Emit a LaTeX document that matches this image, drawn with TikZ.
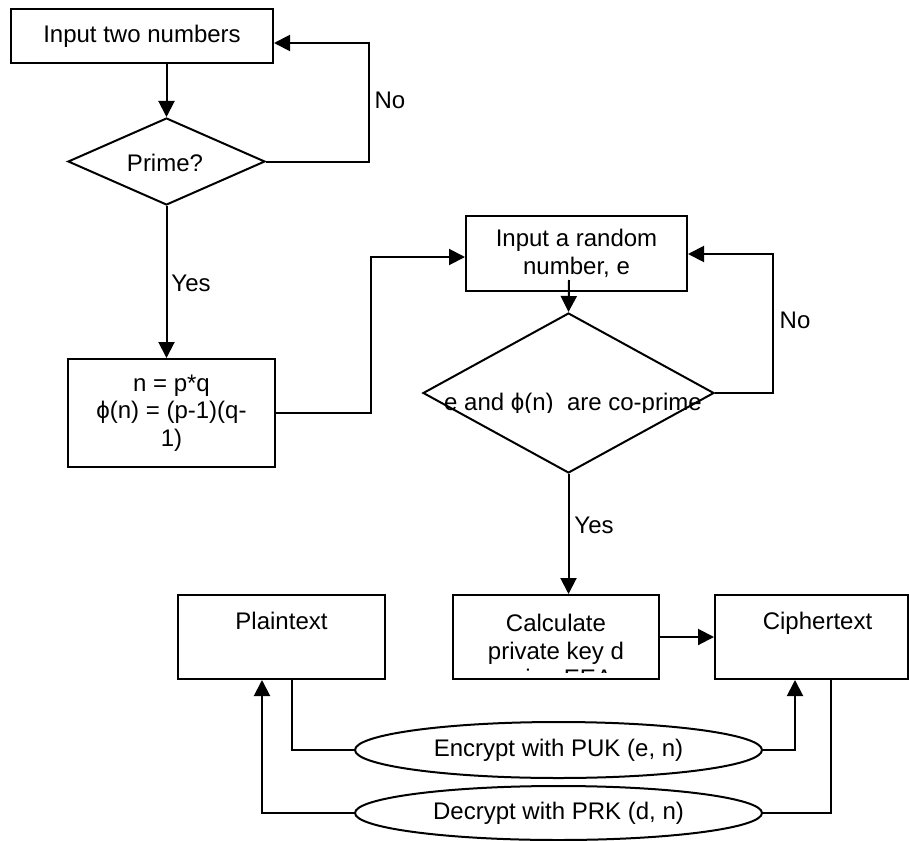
\documentclass[tikz,border=0pt]{standalone}
\usepackage{fontspec}
\setmainfont{Liberation Sans}
\usetikzlibrary{arrows.meta,shapes.geometric}
\tikzset{
  box/.style={draw, line width=1pt, rectangle, inner sep=0pt},
  diam/.style={draw, line width=1pt, diamond, inner sep=0pt},
  oval/.style={draw, line width=1pt, ellipse, inner sep=0pt},
  con/.style={line width=1pt},
  arr/.style={line width=1pt, -{Triangle[length=8pt,width=8pt]}},
  lbl/.style={inner sep=0pt},
}
\begin{document}
\begin{tikzpicture}[x=0.5pt, y=-0.5pt, font=\fontsize{12}{13.8}\selectfont]
\useasboundingbox (0,0) rectangle (909,840);

% top-left flow
\node[box, minimum width=131pt, minimum height=27pt] (b1) at (142,36) {Input two numbers};
\node[diam, minimum width=98.5pt, minimum height=43.5pt] (d1) at (166.5,161.5) {};
\node[lbl] (t1) at (165,163) {Prime?};
\node[box, minimum width=103.5pt, minimum height=54pt, align=center] (b2) at (171.5,413) {n = p*q\\ϕ(n) = (p-1)(q-\\1)};

% middle flow
\node[box, minimum width=110.5pt, minimum height=37.5pt, align=center] (b3) at (576.5,253.5) {Input a random\\number, e};
\node[diam, minimum width=145.5pt, minimum height=80pt] (d2) at (568.5,393) {};
\begin{scope}
  \clip (415,370) rectangle (725,412);
  \node[lbl, anchor=base] (t2) at (573,410) {e and ϕ(n)\ \ are co-prime};
\end{scope}

% bottom row
\node[box, minimum width=103.5pt, minimum height=42pt] (p) at (281.5,637) {};
\node[lbl, anchor=base] (tp) at (281.5,629) {Plaintext};
\node[box, minimum width=103pt, minimum height=42pt] (c) at (556,637) {};
\begin{scope}
  \clip (455,598) rectangle (657,672);
  \node[lbl, align=center] (tc) at (556,653) {Calculate\\private key d\\using EEA};
\end{scope}
\node[box, minimum width=96.5pt, minimum height=42pt] (k) at (811.5,637) {};
\node[lbl, anchor=base] (tk) at (817.5,629) {Ciphertext};

\node[oval, minimum width=203.5pt, minimum height=28pt] (e1) at (558.5,750) {Encrypt with PUK (e, n)};
\node[oval, minimum width=203.5pt, minimum height=27pt] (e2) at (558.5,813) {Decrypt with PRK (d, n)};

% connectors
\draw[arr] (b1.south -| d1.north) -- (d1.north);
\coordinate (n1) at (369,43);
\draw[arr] (d1.east) -| (n1) -- (n1 -| b1.east);
\node[lbl] (no1) at (390,100) {No};

\draw[arr] (d1.south) -- (d1.south |- b2.north);
\node[lbl] (yes1) at (191,283) {Yes};

\coordinate (j1) at (371,257);
\draw[arr] (b2.east) -| (j1) -- (j1 -| b3.west);

\coordinate (s2) at (569,280);
\draw[arr] (s2) -- (d2.north);

\coordinate (n2) at (773,254);
\draw[arr] (d2.east) -| (n2) -- (n2 -| b3.east);
\node[lbl] (no2) at (795,320) {No};

\draw[arr] (d2.south) -- (d2.south |- c.north);
\node[lbl] (yes2) at (594,525) {Yes};

\draw[arr] (c.east) -- (k.west);

\coordinate (q1) at (292,0);
\draw[con] (p.south -| q1) |- (e1.west);
\coordinate (q2) at (795,0);
\draw[arr] (e1.east) -| (q2 |- k.south);
\coordinate (q3) at (831,0);
\draw[con] (k.south -| q3) |- (e2.east);
\coordinate (q4) at (262,0);
\draw[arr] (e2.west) -| (q4 |- p.south);
\end{tikzpicture}
\end{document}
